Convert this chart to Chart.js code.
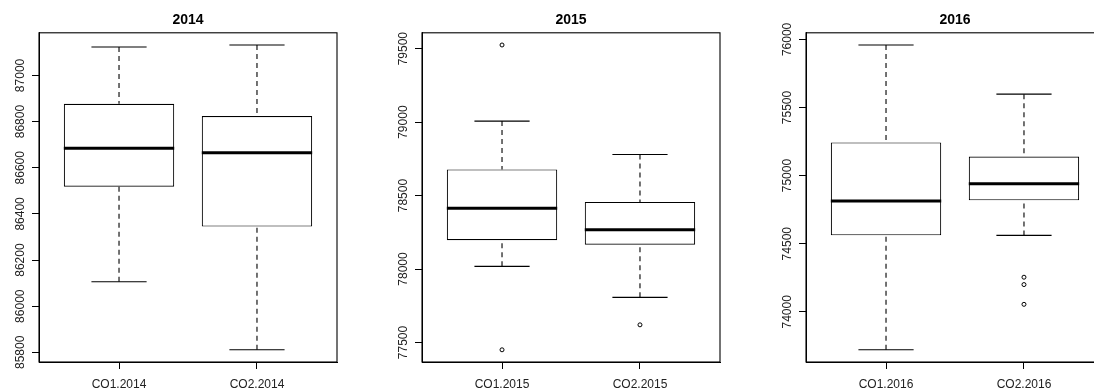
<!DOCTYPE html>
<html>
<head>
<meta charset="utf-8">
<script src="https://cdn.jsdelivr.net/npm/chart.js@4.4.0/dist/chart.umd.min.js"></script>
<style>
  html, body { margin: 0; padding: 0; background: #fff; overflow: hidden; }
  #wrap { position: relative; width: 1150px; height: 389px; }
  canvas { position: absolute; top: 0; }
</style>
</head>
<body>
<div id="wrap">
  <canvas id="c0" width="383" height="389" style="left:0px"></canvas>
  <canvas id="c1" width="383" height="389" style="left:383px"></canvas>
  <canvas id="c2" width="383" height="389" style="left:767px"></canvas>
</div>
<script>
// values, one entry per panel (year)
const years = ['2014', '2015', '2016'];
const categories = [['CO1.2014', 'CO2.2014'], ['CO1.2015', 'CO2.2015'], ['CO1.2016', 'CO2.2016']];
const whiskerLow = [[86106, 85811], [78018, 77807], [73721, 74561]];
const quartile1 = [[86518, 86345], [78196, 78166], [74562, 74819]];
const medians = [[86685, 86665], [78414, 78268], [74814, 74941]];
const quartile3 = [[86877, 86824], [78678, 78457], [75243, 75140]];
const whiskerHigh = [[87123, 87132], [79007, 78780], [75959, 75598]];
const outliers = [[[], []], [[79525, 77450], [77620]], [[], [74254, 74200, 74055]]];
const yTicks = [
  [85800, 86000, 86200, 86400, 86600, 86800, 87000],
  [77500, 78000, 78500, 79000, 79500],
  [74000, 74500, 75000, 75500, 76000]
];

Chart.defaults.font.family = '"Liberation Sans", Arial, sans-serif';
Chart.defaults.color = '#222';

// whiskers, staples and medians, placed with the chart's scales
const boxplotParts = {
  id: 'boxplotParts',
  afterDatasetsDraw(chart, args, opts) {
    const p = opts.panel;
    const ctx = chart.ctx;
    const y = chart.scales.y;
    const line = (x1, y1, x2, y2) => {
      ctx.beginPath(); ctx.moveTo(x1, y1); ctx.lineTo(x2, y2); ctx.stroke();
    };
    ctx.save();
    ctx.strokeStyle = '#000';
    chart.getDatasetMeta(0).data.forEach((bar, i) => {
      const cx = bar.x;
      const half = bar.width / 2;
      const yLo = y.getPixelForValue(whiskerLow[p][i]);
      const yQ1 = y.getPixelForValue(quartile1[p][i]);
      const yMed = y.getPixelForValue(medians[p][i]);
      const yQ3 = y.getPixelForValue(quartile3[p][i]);
      const yHi = y.getPixelForValue(whiskerHigh[p][i]);
      ctx.lineWidth = 1.1;
      ctx.setLineDash([5, 4]);
      line(cx, yLo, cx, yQ1);
      line(cx, yHi, cx, yQ3);
      ctx.setLineDash([]);
      line(cx - half / 2, yLo, cx + half / 2, yLo);
      line(cx - half / 2, yHi, cx + half / 2, yHi);
      ctx.lineWidth = 3;
      line(cx - half, yMed, cx + half, yMed);
    });
    ctx.restore();
  },
  afterDraw(chart) {
    const {ctx, chartArea: a} = chart;
    ctx.save();
    ctx.strokeStyle = '#000';
    ctx.lineWidth = 1.1;
    ctx.strokeRect(a.left, a.top, a.right - a.left, a.bottom - a.top);
    ctx.restore();
  }
};

years.forEach((year, p) => {
  const all = whiskerLow[p].concat(whiskerHigh[p], ...outliers[p]);
  const lo = Math.min(...all), hi = Math.max(...all);
  const pad = (hi - lo) * 0.04;

  const boxes = categories[p].map((c, i) => ({ x: i + 1, y: [quartile1[p][i], quartile3[p][i]] }));
  const points = [];
  outliers[p].forEach((list, i) => list.forEach(v => points.push({ x: i + 1, y: v })));

  new Chart(document.getElementById('c' + p), {
    type: 'bar',
    data: {
      datasets: [
        {
          type: 'bar',
          data: boxes,
          backgroundColor: '#fff',
          borderColor: '#000',
          borderWidth: 1.1,
          borderSkipped: false,
          categoryPercentage: 1,
          barPercentage: 0.8
        },
        {
          type: 'scatter',
          data: points,
          pointStyle: 'circle',
          pointRadius: 2,
          pointBorderWidth: 1,
          pointBorderColor: '#000',
          pointBackgroundColor: 'rgba(0,0,0,0)'
        }
      ]
    },
    options: {
      responsive: false,
      animation: false,
      layout: { padding: { left: 0, right: 46, top: 0, bottom: 0 } },
      plugins: {
        legend: { display: false },
        tooltip: { enabled: false },
        title: {
          display: true,
          text: year,
          fullSize: false,
          color: '#000',
          font: { size: 14, weight: 'bold' },
          padding: { top: 12, bottom: 4 }
        },
        boxplotParts: { panel: p }
      },
      scales: {
        x: {
          type: 'linear',
          min: 0.42,
          max: 2.58,
          offset: false,
          grid: { offset: false, drawOnChartArea: false, tickLength: 7, tickColor: '#000' },
          border: { display: true, color: '#000' },
          afterBuildTicks: s => { s.ticks = categories[p].map((c, i) => ({ value: i + 1 })); },
          afterFit: s => { s.height = 27; },
          ticks: {
            font: { size: 12 },
            padding: 8,
            maxRotation: 0,
            callback: (v, i) => categories[p][i]
          }
        },
        y: {
          type: 'linear',
          beginAtZero: false,
          min: lo - pad,
          max: hi + pad,
          grid: { drawOnChartArea: false, tickLength: 7, tickColor: '#000' },
          border: { display: true, color: '#000' },
          afterBuildTicks: s => { s.ticks = yTicks[p].map(v => ({ value: v })); },
          afterFit: s => { s.width = 39; },
          ticks: {
            font: { size: 12 },
            minRotation: 90,
            maxRotation: 90,
            crossAlign: 'center',
            padding: -5,
            callback: v => String(v)
          }
        }
      }
    },
    plugins: [boxplotParts]
  });
});
</script>
</body>
</html>
